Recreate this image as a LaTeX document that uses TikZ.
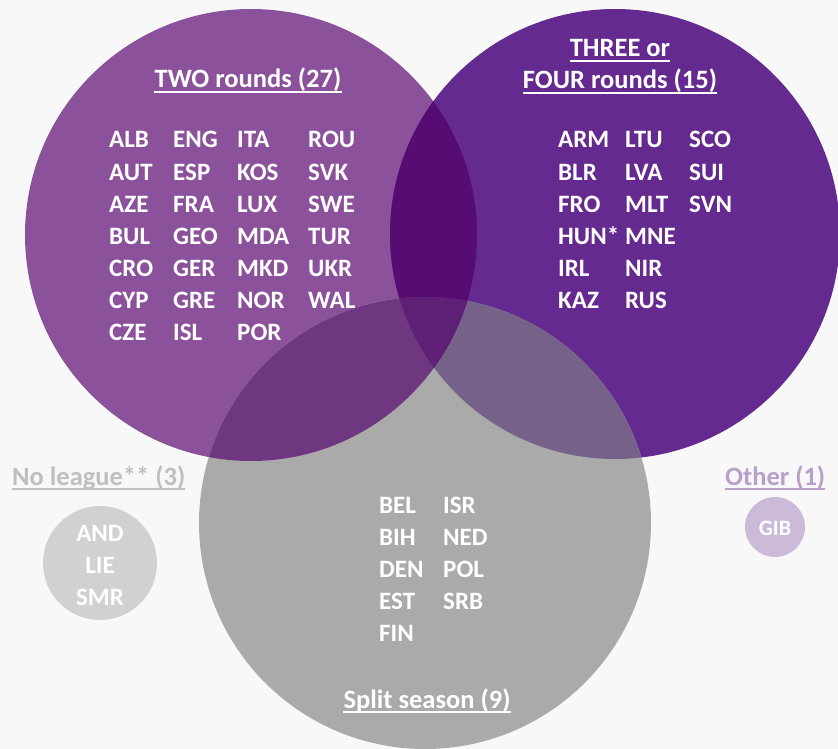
\documentclass[tikz,border=0pt]{standalone}
\usepackage{fontspec}
\setmainfont{Carlito}
\usetikzlibrary{positioning}

\definecolor{bgc}{HTML}{F8F8F8}
\definecolor{twoc}{HTML}{8B529B}
\definecolor{threec}{HTML}{652A8F}
\definecolor{splitc}{HTML}{AAAAAA}
\definecolor{twothreec}{HTML}{560C72}
\definecolor{twosplitc}{HTML}{703781}
\definecolor{threesplitc}{HTML}{766189}
\definecolor{allc}{HTML}{5E1F76}
\definecolor{noleaguec}{HTML}{BFBFBF}
\definecolor{noleaguefill}{HTML}{D1D1D1}
\definecolor{otherc}{HTML}{B7A0CA}
\definecolor{otherfill}{HTML}{CBBBD9}

\begin{document}
\begin{tikzpicture}[x=1pt,y=-1pt]
\tikzset{every node/.style={inner sep=0pt},
  cty/.style={anchor=base west,text=white,font=\fontsize{25}{30}\selectfont\bfseries},
  ttl/.style={anchor=base,text=white,font=\fontsize{26.5}{32}\selectfont\bfseries},
  ctr/.style={anchor=base,text=white,font=\fontsize{25}{30}\selectfont\bfseries},
  uline/.style={line width=1.6pt}}
\useasboundingbox (0,0) rectangle (838,749);
\fill [bgc] (0,0) rectangle (838,749);
\coordinate (two) at (251,235);
\coordinate (three) at (615,234);
\coordinate (split) at (425,523);
\begin{scope}
\clip (0,0) rectangle (838,749);
\fill [twoc] (two) circle (226pt);
\fill [threec] (three) circle (225pt);
\fill [splitc] (split) circle (226pt);
\begin{scope}
\clip (three) circle (225pt);
\fill [threesplitc] (split) circle (226pt);
\end{scope}
\begin{scope}
\clip (two) circle (226pt);
\fill [twothreec] (three) circle (225pt);
\fill [twosplitc] (split) circle (226pt);
\clip (three) circle (225pt);
\fill [allc] (split) circle (226pt);
\end{scope}
\end{scope}
% titles
\node [ttl] (twottl) at (248,88) {TWO rounds (27)};
\draw [white,uline] ([yshift=-4pt]twottl.base west) -- ([yshift=-4pt]twottl.base east);
\node [ttl] (threettl) at (620,57) {THREE or\ };
\draw [white,uline] ([yshift=-4pt]threettl.base west) -- ([yshift=-4pt]threettl.base east);
\node [ttl] (fourttl) at (620,89) {FOUR rounds (15)};
\draw [white,uline] ([yshift=-4pt]fourttl.base west) -- ([yshift=-4pt]fourttl.base east);
\node [ttl] (splitttl) at (427,708) {Split season (9)};
\draw [white,uline] ([yshift=-4pt]splitttl.base west) -- ([yshift=-4pt]splitttl.base east);
% TWO rounds
\foreach \nm [count=\i from 0] in {ALB,AUT,AZE,BUL,CRO,CYP,CZE}
  \node [cty] (twoa\i) at (109,148+32*\i) {\nm};
\foreach \nm [count=\i from 0] in {ENG,ESP,FRA,GEO,GER,GRE,ISL}
  \node [cty] (twob\i) at (173,148+32*\i) {\nm};
\foreach \nm [count=\i from 0] in {ITA,KOS,LUX,MDA,MKD,NOR,POR}
  \node [cty] (twoc\i) at (237,148+32*\i) {\nm};
\foreach \nm [count=\i from 0] in {ROU,SVK,SWE,TUR,UKR,WAL}
  \node [cty] (twod\i) at (308,148+32*\i) {\nm};
% THREE or FOUR rounds
\foreach \nm [count=\i from 0] in {ARM,BLR,FRO,HUN*,IRL,KAZ}
  \node [cty] (threea\i) at (558,148+32*\i) {\nm};
\foreach \nm [count=\i from 0] in {LTU,LVA,MLT,MNE,NIR,RUS}
  \node [cty] (threeb\i) at (625,148+32*\i) {\nm};
\foreach \nm [count=\i from 0] in {SCO,SUI,SVN}
  \node [cty] (threec\i) at (689,148+32*\i) {\nm};
% Split season
\foreach \nm [count=\i from 0] in {BEL,BIH,DEN,EST,FIN}
  \node [cty] (splita\i) at (379,513+32*\i) {\nm};
\foreach \nm [count=\i from 0] in {ISR,NED,POL,SRB}
  \node [cty] (splitb\i) at (443,513+32*\i) {\nm};
% No league
\node [ttl,text=noleaguec,anchor=base west] (nolgttl) at (12,485) {No league** (3)};
\draw [noleaguec,uline] ([yshift=-4pt]nolgttl.base west) -- ([yshift=-4pt]nolgttl.base east);
\fill [noleaguefill] (100,563) circle (57pt);
\node [ctr] (nolga) at (100,541) {AND};
\node [ctr] (nolgb) at (100,573) {LIE};
\node [ctr] (nolgc) at (100,605) {SMR};
% Other
\node [ttl,text=otherc,anchor=base west] (othttl) at (725,485) {Other (1)};
\draw [otherc,uline] ([yshift=-4pt]othttl.base west) -- ([yshift=-4pt]othttl.base east);
\fill [otherfill] (775,527) circle (30pt);
\node [ctr,font=\fontsize{22}{26}\selectfont\bfseries] (othgib) at (775,535) {GIB};
\end{tikzpicture}
\end{document}
